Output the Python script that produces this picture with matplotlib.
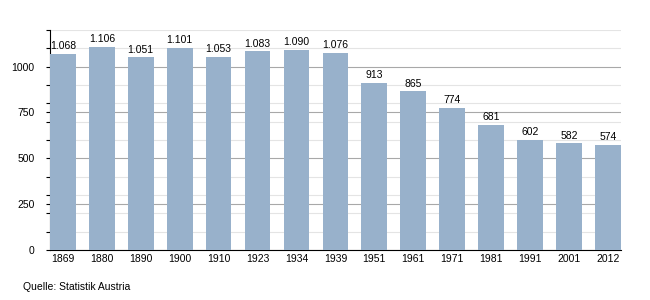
import matplotlib
matplotlib.use('Agg')
import matplotlib.pyplot as plt
from matplotlib.ticker import MultipleLocator

plt.rcParams['font.family'] = ['Liberation Sans', 'DejaVu Sans']
plt.rcParams['font.size'] = 7.5

# Data
years = ['1869', '1880', '1890', '1900', '1910', '1923', '1934', '1939',
         '1951', '1961', '1971', '1981', '1991', '2001', '2012']
population = [1068, 1106, 1051, 1101, 1053, 1083, 1090, 1076,
              913, 865, 774, 681, 602, 582, 574]

fig = plt.figure(figsize=(6.5, 3), dpi=100)
ax = fig.add_axes([0.077, 0.1667, 0.878, 0.7333])

x = range(len(years))
bars = ax.bar(x, population, width=0.66, color='#98b1cb', zorder=3)

# value labels with dot as thousands separator
labels = [f'{v:,}'.replace(',', '.') for v in population]
ax.bar_label(bars, labels=labels, padding=2)

ax.set_xlim(-0.33, len(years) - 1 + 0.33)
ax.set_ylim(0, 1200)
ax.set_xticks(list(x))
ax.set_xticklabels(years)
ax.yaxis.set_major_locator(MultipleLocator(250))
ax.yaxis.set_minor_locator(MultipleLocator(100))

ax.grid(axis='y', which='major', color='#a8a8a8', linewidth=0.8, zorder=0)
ax.grid(axis='y', which='minor', color='#e4e4e4', linewidth=0.8, zorder=0)

for side in ['top', 'right']:
    ax.spines[side].set_visible(False)
ax.spines['left'].set_linewidth(0.8)
ax.spines['bottom'].set_linewidth(0.8)
ax.tick_params(axis='x', length=0, pad=3)
ax.tick_params(axis='y', which='major', length=3, width=0.8, pad=8)
ax.tick_params(axis='y', which='minor', length=3, width=0.8)

fig.text(0.035, 0.033, 'Quelle: Statistik Austria')

fig.savefig('out.png', dpi=100)
